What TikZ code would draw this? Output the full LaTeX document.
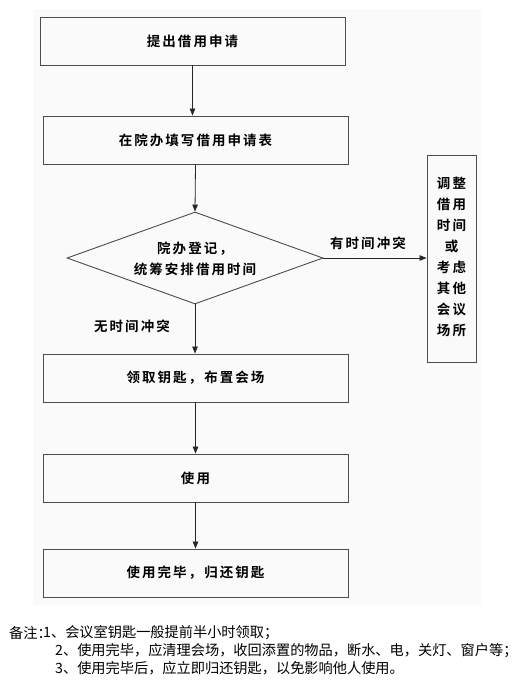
\documentclass[tikz,border=0pt]{standalone}
\usepackage{fontspec}
\usetikzlibrary{arrows.meta,shapes.geometric}
\newfontfamily\cjkb{Noto Sans CJK SC}[LetterSpace=15,BoldFont={* Bold}]
\newfontfamily\cjkr{Noto Sans CJK SC}
\begin{document}
\begin{tikzpicture}[x=1pt,y=-1pt,
  stepbox/.style={draw=black!70,line width=0.9pt,rectangle,minimum width=305pt,minimum height=48pt,inner sep=0pt,font=\cjkb\bfseries\fontsize{13.5}{21}\selectfont},
  lbl/.style={inner sep=0pt,font=\cjkb\bfseries\fontsize{13.5}{21}\selectfont},
  note/.style={inner sep=0pt,anchor=west,font=\cjkr\fontsize{14.2}{17}\selectfont},
  arr/.style={draw=black!85,line width=0.8pt,-{Triangle[length=7pt,width=5.5pt]}}]
\useasboundingbox (0,0) rectangle (520,687);
\fill[black!2] (33,9) rectangle (481,605);
\node[stepbox] (b1) at (192.5,41) {提出借用申请};
\node[stepbox] (b2) at (195.5,140) {在院办填写借用申请表};
\node[draw=black!70,line width=0.9pt,diamond,minimum width=256pt,minimum height=92pt,inner sep=0pt] (d) at (195,258) {};
\node[lbl,align=center] (dt) at (195,258.5) {院办登记，\\统筹安排借用时间};
\node[draw=black!70,line width=0.9pt,rectangle,minimum width=49pt,minimum height=207pt,inner sep=0pt] (r) at (451.5,258.5) {};
\node[lbl,align=center] (rt) at (451.5,256.5) {调整\\借用\\时间\\或\\考虑\\其他\\会议\\场所};
\node[stepbox] (b3) at (195.5,378) {领取钥匙，布置会场};
\node[stepbox] (b4) at (195.5,478) {使用};
\node[stepbox] (b5) at (195.5,573) {使用完毕，归还钥匙};
\node[lbl] (l1) at (368,243) {有时间冲突};
\node[lbl] (l2) at (132,326) {无时间冲突};
\draw[arr] (b1.south) -- (b1.south |- b2.north);
\draw[arr] (b2.south) -- (d.north);
\draw[arr] (d.east) -- (r.west |- d.east);
\draw[arr] (d.south) -- (d.south |- b3.north);
\draw[arr] (b3.south) -- (b4.north);
\draw[arr] (b4.south) -- (b5.north);
\node[note] (n0) at (9,633) {备注：};
\node[note] (n1) at (43,633) {1、会议室钥匙一般提前半小时领取；};
\node[note] (n2) at (55,651) {2、使用完毕，应清理会场，收回添置的物品，断水、电，关灯、窗户等；};
\node[note] (n3) at (55,668) {3、使用完毕后，应立即归还钥匙，以免影响他人使用。};
\end{tikzpicture}
\end{document}
